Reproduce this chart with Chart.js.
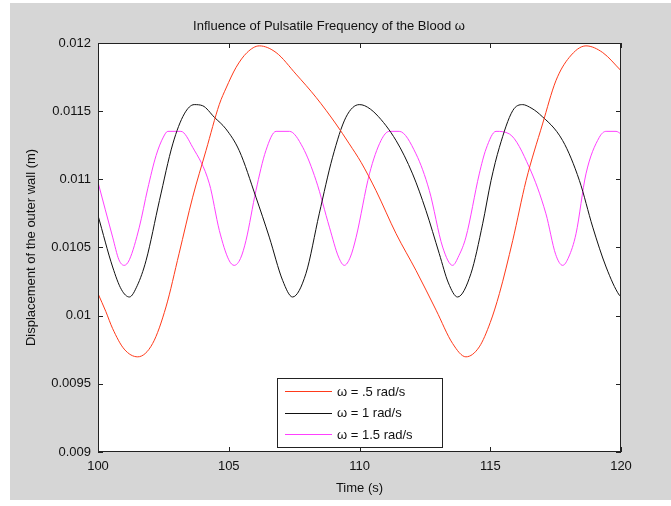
<!DOCTYPE html>
<html>
<head>
<meta charset="utf-8">
<script src="https://cdn.jsdelivr.net/npm/chart.js@4/dist/chart.umd.min.js"></script>
<style>
  html, body { margin: 0; padding: 0; background: #fff; }
  canvas { display: block; }
</style>
</head>
<body>
<canvas id="chart" width="671" height="506"></canvas>
<script>
const chartTitle = 'Influence of Pulsatile Frequency of the Blood \u03c9';
const xLabel = 'Time (s)';
const yLabel = 'Displacement of the outer wall (m)';

const xTicks = [100, 105, 110, 115, 120];
const yTicks = [0.009, 0.0095, 0.01, 0.0105, 0.011, 0.0115, 0.012];
const yTickLabels = ['0.009', '0.0095', '0.01', '0.0105', '0.011', '0.0115', '0.012'];

const seriesNames = ['\u03c9 = .5 rad/s', '\u03c9 = 1 rad/s', '\u03c9 = 1.5 rad/s'];

// omega = .5 rad/s
const timeHalf = [100, 100.3, 100.56, 101.0, 101.52, 102.09, 102.6, 103.1, 103.62, 104.13, 104.64, 104.9, 105.28, 105.7, 106.17, 106.81, 107.57, 108.34, 109.1, 109.61, 110.06, 110.63, 111.4, 112.16, 112.93, 113.56, 114.07, 114.58, 115.0, 115.35, 115.86, 116.37, 117.0, 117.51, 118.02, 118.66, 119.3, 120];
const dispHalf = [0.010162, 0.01003, 0.009905, 0.009755, 0.009698, 0.009796, 0.010064, 0.010455, 0.010869, 0.011211, 0.01155, 0.01167, 0.011821, 0.01193, 0.011979, 0.01193, 0.011772, 0.011601, 0.011406, 0.01126, 0.011125, 0.010918, 0.010601, 0.010332, 0.01004, 0.009796, 0.009698, 0.009771, 0.00995, 0.010162, 0.010552, 0.010991, 0.011406, 0.011723, 0.011894, 0.011979, 0.01193, 0.011797];

// omega = 1 rad/s
const timeOne = [100, 100.56, 100.9, 101.2, 101.5, 101.84, 102.35, 102.86, 103.3, 103.68, 104.0, 104.45, 104.89, 105.4, 106.04, 106.55, 107.06, 107.44, 107.95, 108.46, 108.97, 109.48, 109.99, 110.2, 110.63, 111.4, 112.03, 112.54, 113.05, 113.4, 113.75, 114.26, 114.71, 115.03, 115.35, 115.86, 116.24, 116.5, 116.88, 117.77, 118.41, 118.92, 119.43, 119.94, 120];
const dispOne = [0.010735, 0.010357, 0.01019, 0.010137, 0.01022, 0.010406, 0.010845, 0.01126, 0.01148, 0.011548, 0.01154, 0.011455, 0.01137, 0.011211, 0.010869, 0.010576, 0.010259, 0.010137, 0.010308, 0.010747, 0.011162, 0.011455, 0.011548, 0.01154, 0.011479, 0.011284, 0.01104, 0.010772, 0.010455, 0.01024, 0.010137, 0.010308, 0.010674, 0.010991, 0.011235, 0.011504, 0.011548, 0.01153, 0.011479, 0.011284, 0.010991, 0.010649, 0.010357, 0.010149, 0.01014];

// omega = 1.5 rad/s
const timeOneHalf = [100, 100.56, 100.8, 101.0, 101.2, 101.58, 101.9, 102.22, 102.5, 102.67, 103.17, 103.62, 104.26, 104.64, 105.0, 105.21, 105.45, 105.66, 106.04, 106.42, 106.81, 107.32, 107.83, 108.34, 108.85, 109.2, 109.42, 109.65, 109.87, 110.38, 110.82, 111.14, 111.52, 112.16, 112.67, 113.18, 113.56, 113.8, 114.07, 114.58, 114.84, 115.22, 115.73, 116.49, 117.13, 117.5, 117.77, 118.0, 118.28, 118.66, 119.17, 119.43, 119.81, 120];
const dispOneHalf = [0.010979, 0.010576, 0.01041, 0.010369, 0.01041, 0.010649, 0.01093, 0.011174, 0.01131, 0.011352, 0.011352, 0.011235, 0.010967, 0.010625, 0.01041, 0.010369, 0.01042, 0.010552, 0.010918, 0.011211, 0.011352, 0.011352, 0.011235, 0.010991, 0.010649, 0.01043, 0.010369, 0.01043, 0.010575, 0.01104, 0.011284, 0.011352, 0.011352, 0.011187, 0.010918, 0.010503, 0.010369, 0.01044, 0.010576, 0.01104, 0.011223, 0.011352, 0.011333, 0.011089, 0.010747, 0.01045, 0.010369, 0.01043, 0.010601, 0.01104, 0.011308, 0.011352, 0.011352, 0.011333];

const colors = ['#ff3a1a', '#111111', '#ff40ff'];
const fontFamily = "'Liberation Sans', Arial, sans-serif";

function toPoints(ts, vs) {
  return ts.map(function(t, i) { return {x: t, y: vs[i]}; });
}

// matlab-ish frame: grey figure, white axes, box, inward ticks, title, legend
const matlabFrame = {
  id: 'matlabFrame',
  beforeDraw(chart) {
    const ctx = chart.ctx, a = chart.chartArea;
    ctx.save();
    ctx.fillStyle = '#ffffff';
    ctx.fillRect(0, 0, chart.width, chart.height);
    ctx.fillStyle = '#d6d6d6';
    ctx.fillRect(10, 3, chart.width - 10, 497);
    ctx.fillStyle = '#ffffff';
    ctx.fillRect(a.left, a.top, a.right - a.left, a.bottom - a.top);
    ctx.restore();
  },
  afterDraw(chart) {
    const ctx = chart.ctx, a = chart.chartArea;
    const xs = chart.scales.x, ys = chart.scales.y;
    ctx.save();
    ctx.strokeStyle = '#222';
    ctx.lineWidth = 1;
    ctx.strokeRect(Math.round(a.left) + 0.5, Math.round(a.top) + 0.5, Math.round(a.right - a.left) - 1, Math.round(a.bottom - a.top) - 1);
    ctx.beginPath();
    xTicks.forEach(function(v) {
      const px = Math.round(xs.getPixelForValue(v)) + 0.5;
      ctx.moveTo(px, a.bottom); ctx.lineTo(px, a.bottom - 5);
      ctx.moveTo(px, a.top); ctx.lineTo(px, a.top + 5);
    });
    yTicks.forEach(function(v) {
      const py = Math.round(ys.getPixelForValue(v)) + 0.5;
      ctx.moveTo(a.left, py); ctx.lineTo(a.left + 5, py);
      ctx.moveTo(a.right, py); ctx.lineTo(a.right - 5, py);
    });
    ctx.stroke();

    // title
    ctx.fillStyle = '#111';
    ctx.font = '13px ' + fontFamily;
    ctx.textAlign = 'center';
    ctx.textBaseline = 'middle';
    ctx.fillText(chartTitle, 329, 26);

    // legend
    const lx = 277, ly = 378, lw = 165, lh = 69;
    ctx.fillStyle = '#ffffff';
    ctx.fillRect(lx, ly, lw, lh);
    ctx.strokeStyle = '#222';
    ctx.strokeRect(lx + 0.5, ly + 0.5, lw, lh);
    ctx.textAlign = 'left';
    chart.data.datasets.forEach(function(ds, i) {
      const y = 391 + i * 21.5;
      ctx.strokeStyle = ds.borderColor;
      ctx.beginPath();
      ctx.moveTo(285, Math.round(y) + 0.5);
      ctx.lineTo(332, Math.round(y) + 0.5);
      ctx.stroke();
      ctx.fillStyle = '#111';
      ctx.fillText(ds.label, 337, y + 1);
    });
    ctx.restore();
  }
};

new Chart(document.getElementById('chart'), {
  type: 'line',
  data: {
    datasets: [
      { label: seriesNames[0], data: toPoints(timeHalf, dispHalf), borderColor: colors[0] },
      { label: seriesNames[1], data: toPoints(timeOne, dispOne), borderColor: colors[1] },
      { label: seriesNames[2], data: toPoints(timeOneHalf, dispOneHalf), borderColor: colors[2] }
    ]
  },
  options: {
    responsive: false,
    animation: false,
    devicePixelRatio: 1,
    layout: { padding: { left: 10, right: 50, top: 43, bottom: 6 } },
    elements: {
      point: { radius: 0 },
      line: { borderWidth: 1, cubicInterpolationMode: 'monotone', fill: false }
    },
    plugins: {
      legend: { display: false },
      title: { display: false },
      tooltip: { enabled: false }
    },
    scales: {
      x: {
        type: 'linear',
        min: 100,
        max: 120,
        afterBuildTicks: function(s) { s.ticks = xTicks.map(function(v) { return {value: v}; }); },
        afterFit: function(s) { s.height = 48; },
        grid: { display: false, drawTicks: false },
        border: { display: false },
        ticks: { padding: 7, color: '#111', font: { size: 13, family: fontFamily } },
        title: { display: true, text: xLabel, color: '#111', font: { size: 13, family: fontFamily }, padding: { top: 0, bottom: 4 } }
      },
      y: {
        type: 'linear',
        min: 0.009,
        max: 0.012,
        afterBuildTicks: function(s) { s.ticks = yTicks.map(function(v) { return {value: v}; }); },
        afterFit: function(s) { s.width = 88; },
        grid: { display: false, drawTicks: false },
        border: { display: false },
        ticks: {
          padding: 7,
          color: '#111',
          font: { size: 13, family: fontFamily },
          callback: function(v, i) { return yTickLabels[i]; }
        },
        title: { display: true, text: yLabel, color: '#111', font: { size: 13, family: fontFamily }, padding: { top: 14, bottom: 0 } }
      }
    }
  },
  plugins: [matlabFrame]
});
</script>
</body>
</html>
